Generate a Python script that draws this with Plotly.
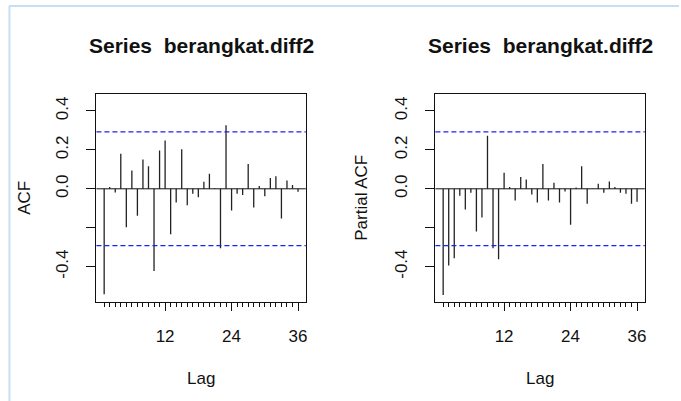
import plotly.graph_objects as go

lags = list(range(1, 37))
acf_vals = [-0.542, 0.009, -0.019, 0.180, -0.197, 0.094, -0.138, 0.150, 0.116, -0.422,
            0.197, 0.248, -0.234, -0.070, 0.203, -0.085, -0.026, -0.043, 0.036, 0.077,
            0.003, -0.306, 0.326, -0.111, -0.026, -0.032, 0.128, -0.096, 0.014, -0.038,
            0.055, 0.065, -0.152, 0.043, 0.019, -0.015]
pacf_vals = [-0.545, -0.394, -0.357, -0.036, -0.106, -0.020, -0.220, -0.147, 0.272, -0.306,
             -0.362, 0.082, 0.009, -0.060, 0.060, 0.048, -0.029, -0.070, 0.128, -0.060,
             0.031, -0.070, -0.014, -0.185, 0.007, 0.116, -0.077, 0.002, 0.026, -0.020,
             0.038, 0.009, -0.020, -0.026, -0.077, -0.067]
conf_limit = 0.292
titles = ["Series  berangkat.diff2", "Series  berangkat.diff2"]
ylabels = ["ACF", "Partial ACF"]
xlabel = "Lag"
x_ticks = [12, 24, 36]
y_ticks = [-0.4, -0.2, 0.0, 0.2, 0.4]
y_ticktext = ["-0.4", "", "0.0", "0.2", "0.4"]

W, H = 681, 401
FONT = "Liberation Sans, Arial, sans-serif"

def px_x(p):
    return p / W

def px_y(p):
    return 1 - p / H

panels = [
    dict(vals=acf_vals, left=96.7, right=306.7, xa="x", ya="y", label=ylabels[0], title=titles[0], ylab_x=25),
    dict(vals=pacf_vals, left=436.7, right=646.7, xa="x2", ya="y2", label=ylabels[1], title=titles[1], ylab_x=363),
]
top, bottom = 94, 301.7

fig = go.Figure()
shapes = []
annotations = []
for i, p in enumerate(panels):
    xs, ys = [], []
    for k, v in zip(lags, p["vals"]):
        xs += [k, k, None]
        ys += [0, v, None]
    fig.add_trace(go.Scatter(x=xs, y=ys, mode="lines", line=dict(color="#222222", width=1.3),
                             xaxis=p["xa"], yaxis=p["ya"], showlegend=False, hoverinfo="skip"))
    suffix = "" if i == 0 else "2"
    axis_common = dict(showgrid=False, zeroline=False, showline=True, mirror=True,
                       linecolor="#111111", linewidth=1, ticks="outside", tickcolor="#111111",
                       tickfont=dict(family=FONT, size=17, color="#111111"))
    fig.layout["xaxis" + suffix] = dict(
        axis_common, domain=[px_x(p["left"]), px_x(p["right"])], range=[-0.4, 37.4],
        tickmode="array", tickvals=x_ticks, ticktext=[str(t) for t in x_ticks], ticklen=8,
        ticklabelstandoff=11, anchor="y" + suffix,
        minor=dict(tickmode="array", tickvals=lags, ticklen=4, ticks="outside", tickcolor="#111111"))
    fig.layout["yaxis" + suffix] = dict(
        axis_common, domain=[px_y(bottom), px_y(top)], range=[-0.58, 0.487],
        tickmode="array", tickvals=y_ticks, ticktext=y_ticktext, ticklen=9, tickangle=-90,
        ticklabelstandoff=12, anchor="x" + suffix)
    # zero line and confidence bounds
    shapes.append(dict(type="line", xref=p["xa"] + " domain", yref=p["ya"], x0=0, x1=1, y0=0, y1=0,
                       line=dict(color="#111111", width=1)))
    for c in (conf_limit, -conf_limit):
        shapes.append(dict(type="line", xref=p["xa"] + " domain", yref=p["ya"], x0=0, x1=1, y0=c, y1=c,
                           line=dict(color="#1f1fff", width=1.3, dash="5px,3px")))
    cx = (p["left"] + p["right"]) / 2
    annotations.append(dict(text="<b>" + p["title"] + "</b>", x=px_x(cx), y=px_y(45), xref="paper", yref="paper",
                            showarrow=False, xanchor="center", yanchor="middle",
                            font=dict(family=FONT, size=21, color="#111111")))
    annotations.append(dict(text=xlabel, x=px_x(cx), y=px_y(378), xref="paper", yref="paper",
                            showarrow=False, xanchor="center", yanchor="middle",
                            font=dict(family=FONT, size=17, color="#111111")))
    annotations.append(dict(text=p["label"], x=px_x(p["ylab_x"]), y=px_y((top + bottom) / 2), xref="paper", yref="paper",
                            showarrow=False, xanchor="center", yanchor="middle", textangle=-90,
                            font=dict(family=FONT, size=17, color="#111111")))

# light blue frame lines of the screenshot
shapes.append(dict(type="line", xref="paper", yref="paper", x0=px_x(9), x1=1, y0=px_y(6), y1=px_y(6),
                   line=dict(color="#c6dff2", width=2)))
shapes.append(dict(type="line", xref="paper", yref="paper", x0=px_x(9.5), x1=px_x(9.5), y0=px_y(6), y1=0,
                   line=dict(color="#c6dff2", width=2)))

fig.update_layout(width=W, height=H, autosize=False, margin=dict(l=0, r=0, t=0, b=0),
                  paper_bgcolor="white", plot_bgcolor="white", shapes=shapes, annotations=annotations,
                  font=dict(family=FONT))
fig.write_html("out.html")
